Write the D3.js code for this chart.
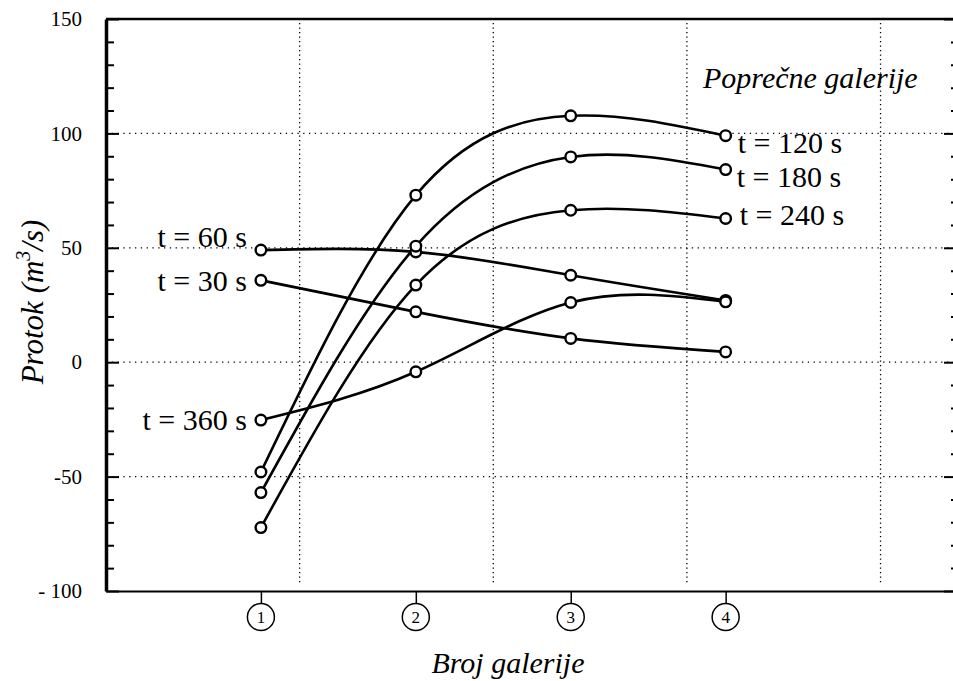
<!DOCTYPE html>
<html>
<head>
  <meta charset="utf-8">
  <script src="https://d3js.org/d3.v7.min.js"></script>
  <style>
    body { margin: 0; background: #fff; overflow: hidden; }
    svg { display: block; }
  </style>
</head>
<body>
<script>
// data
var galleries = [1, 2, 3, 4];
var seriesNames = ["t = 30 s", "t = 60 s", "t = 120 s", "t = 180 s", "t = 240 s", "t = 360 s"];
var t30  = [35.8, 22.0, 10.4, 4.5];
var t60  = [49.0, 48.2, 38.0, 27.0];
var t120 = [-48.0, 73.0, 107.7, 99.0];
var t180 = [-57.0, 50.7, 89.7, 84.2];
var t240 = [-72.3, 33.7, 66.4, 62.8];
var t360 = [-25.3, -4.2, 26.1, 26.4];
var yTicks = [-100, -50, 0, 50, 100, 150];
var yGrid = [-50, 0, 50, 100];
var xGrid = [1.25, 2.5, 3.75, 5];

var values = [t30, t60, t120, t180, t240, t360];

// where each label sits relative to its end point
var labelPos = {
  "t = 30 s":  {at: 0, dx: -14, dy: 11, anchor: "end"},
  "t = 60 s":  {at: 0, dx: -14, dy: -3, anchor: "end"},
  "t = 360 s": {at: 0, dx: -14, dy: 10, anchor: "end"},
  "t = 120 s": {at: 3, dx: 12, dy: 17, anchor: "start"},
  "t = 180 s": {at: 3, dx: 11, dy: 17, anchor: "start"},
  "t = 240 s": {at: 3, dx: 14, dy: 6, anchor: "start"}
};

var serif = "'Liberation Serif', 'Times New Roman', Tinos, 'DejaVu Serif', serif";
var width = 953, height = 681;
var plot = {left: 106, right: 958, top: 19, bottom: 591};

var svg = d3.select("body").append("svg")
    .attr("width", width)
    .attr("height", height);

var x = d3.scaleLinear().domain([0, 5.5]).range([plot.left, plot.right]);
var y = d3.scaleLinear().domain([-100, 150]).range([plot.bottom, plot.top]);

// dotted grid
svg.append("g").selectAll("line").data(yGrid).enter().append("line")
    .attr("x1", plot.left).attr("x2", plot.right)
    .attr("y1", function (d) { return y(d); })
    .attr("y2", function (d) { return y(d); })
    .attr("stroke", "#000").attr("stroke-width", 1.3)
    .attr("stroke-dasharray", "1.3,4.5");

svg.append("g").selectAll("line").data(xGrid).enter().append("line")
    .attr("x1", function (d) { return x(d); })
    .attr("x2", function (d) { return x(d); })
    .attr("y1", plot.top + 4).attr("y2", plot.bottom - 6)
    .attr("stroke", "#000").attr("stroke-width", 1.3)
    .attr("stroke-dasharray", "1.3,3.2");

// left axis with minor ticks
var yAxis = d3.axisLeft(y).tickValues(yTicks).tickSize(-13).tickSizeOuter(0).tickPadding(24)
    .tickFormat(function (d) { return d === -100 ? "- 100" : d; });
var gy = svg.append("g").attr("transform", "translate(" + plot.left + ",0)").call(yAxis);
gy.select(".domain").attr("stroke-width", 3.5);
gy.selectAll(".tick line").attr("stroke-width", 2);
gy.selectAll(".tick text")
    .attr("font-family", null)
    .style("font-family", serif)
    .style("font-size", "21px");

var minor = d3.range(-90, 150, 10).filter(function (d) { return d % 50 !== 0; });
svg.append("g").attr("transform", "translate(" + plot.left + ",0)")
  .call(d3.axisLeft(y).tickValues(minor).tickSize(-8).tickFormat(""))
  .call(function (g) { g.select(".domain").remove(); })
  .selectAll(".tick line").attr("stroke-width", 2);

// right side ticks pointing in (the frame line itself falls past the edge)
svg.append("g").attr("transform", "translate(" + plot.right + ",0)")
  .call(d3.axisRight(y).tickValues(yTicks).tickSize(-14).tickFormat(""))
  .call(function (g) { g.select(".domain").remove(); })
  .selectAll(".tick line").attr("stroke-width", 2);
svg.append("g").attr("transform", "translate(" + plot.right + ",0)")
  .call(d3.axisRight(y).tickValues(minor).tickSize(-7).tickFormat(""))
  .call(function (g) { g.select(".domain").remove(); })
  .selectAll(".tick line").attr("stroke-width", 2);

// top frame
svg.append("line")
    .attr("x1", plot.left).attr("x2", plot.right)
    .attr("y1", plot.top).attr("y2", plot.top)
    .attr("stroke", "#000").attr("stroke-width", 2.5);

// bottom axis with circled gallery numbers
var gx = svg.append("g").attr("transform", "translate(0," + plot.bottom + ")")
  .call(d3.axisBottom(x).tickValues(galleries).tickSize(12).tickSizeOuter(0).tickFormat(""));
gx.select(".domain").attr("stroke-width", 2);
gx.selectAll(".tick line").attr("stroke-width", 1.5);

var marks = svg.append("g").selectAll("g").data(galleries).enter().append("g")
    .attr("transform", function (d) { return "translate(" + x(d) + "," + (plot.bottom + 26) + ")"; });
marks.append("circle").attr("r", 13.5)
    .attr("fill", "#fff").attr("stroke", "#000").attr("stroke-width", 1.5);
marks.append("text")
    .attr("text-anchor", "middle").attr("dy", "0.36em")
    .style("font-family", serif)
    .style("font-size", "17px")
    .text(function (d) { return d; });

// curves
var line = d3.line()
    .x(function (d, i) { return x(galleries[i]); })
    .y(function (d) { return y(d); })
    .curve(d3.curveNatural);

svg.append("g").selectAll("path").data(values).enter().append("path")
    .attr("d", line)
    .attr("fill", "none")
    .attr("stroke", "#000")
    .attr("stroke-width", 2.6);

values.forEach(function (vals) {
  svg.append("g").selectAll("circle").data(vals).enter().append("circle")
      .attr("cx", function (d, i) { return x(galleries[i]); })
      .attr("cy", function (d) { return y(d); })
      .attr("r", 5.3)
      .attr("fill", "#fff")
      .attr("stroke", "#000")
      .attr("stroke-width", 2.4);
});

// series labels
seriesNames.forEach(function (name, k) {
  var p = labelPos[name];
  svg.append("text")
      .attr("x", x(galleries[p.at]) + p.dx)
      .attr("y", y(values[k][p.at]) + p.dy)
      .attr("text-anchor", p.anchor)
      .style("font-family", serif)
      .style("font-size", "30px")
      .text(name);
});

svg.append("text")
    .attr("x", 703).attr("y", 88)
    .style("font-family", serif)
    .style("font-size", "30px").style("font-style", "italic")
    .text("Poprečne galerije");

// axis titles
svg.append("text")
    .attr("x", 508).attr("y", 673)
    .attr("text-anchor", "middle")
    .style("font-family", serif)
    .style("font-size", "30px").style("font-style", "italic")
    .text("Broj galerije");

var yt = svg.append("text")
    .attr("transform", "translate(43,302) rotate(-90)")
    .attr("text-anchor", "middle")
    .style("font-family", serif)
    .style("font-size", "31px").style("font-style", "italic");
yt.append("tspan").text("Protok (m");
yt.append("tspan").attr("dy", -13).style("font-size", "20px").text("3");
yt.append("tspan").attr("dy", 13).text("/s)");
</script>
</body>
</html>
